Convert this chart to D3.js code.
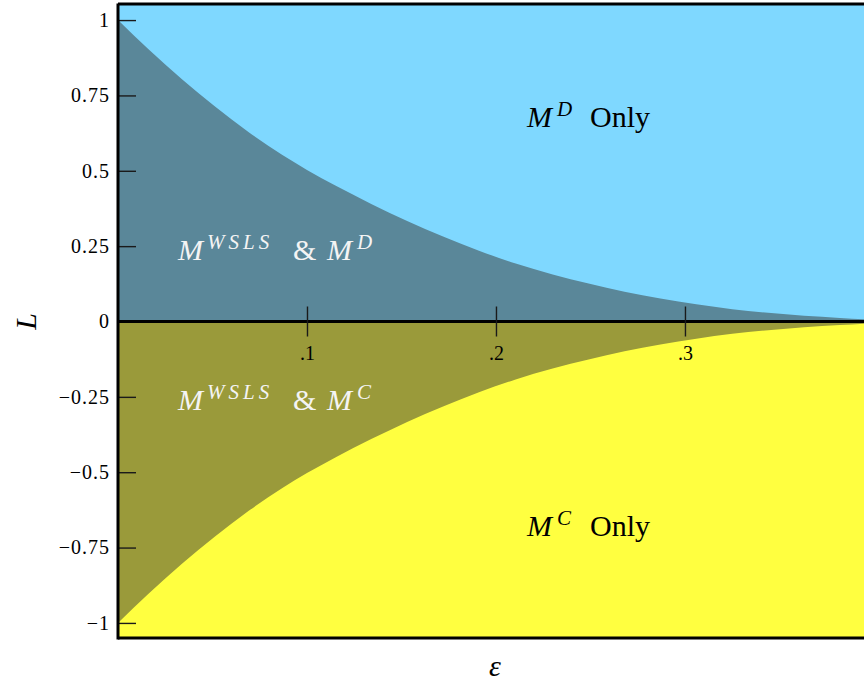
<!DOCTYPE html>
<html>
<head>
<meta charset="utf-8">
<script src="https://cdn.jsdelivr.net/npm/d3@7"></script>
<style>
  html, body { margin: 0; padding: 0; background: #ffffff; overflow: hidden; }
  svg text { font-family: "Liberation Serif", "DejaVu Serif", serif; }
</style>
</head>
<body>
<svg id="chart" width="864" height="682"></svg>
<script>
// Error rate ε and the boundary L(ε) of the WSLS region
const epsilon    = [0, 0.016, 0.034, 0.051, 0.069, 0.087, 0.100, 0.115, 0.134, 0.153, 0.172, 0.191, 0.210, 0.230, 0.249, 0.268, 0.287, 0.306, 0.325, 0.344, 0.363, 0.382, 0.395];
const upperBound = [1.000, 0.904, 0.803, 0.715, 0.629, 0.552, 0.503, 0.451, 0.390, 0.333, 0.282, 0.235, 0.193, 0.156, 0.126, 0.099, 0.076, 0.057, 0.041, 0.029, 0.019, 0.012, 0.007];
const lowerBound = [-1.000, -0.904, -0.803, -0.715, -0.629, -0.552, -0.503, -0.451, -0.390, -0.333, -0.282, -0.235, -0.193, -0.156, -0.126, -0.099, -0.076, -0.057, -0.041, -0.029, -0.019, -0.012, -0.007];

const xTickValues = [0.1, 0.2, 0.3];
const xTickLabels = [".1", ".2", ".3"];
const yTickValues = [1, 0.75, 0.5, 0.25, 0, -0.25, -0.5, -0.75, -1];
const yTickLabels = ["1", "0.75", "0.5", "0.25", "0", "\u22120.25", "\u22120.5", "\u22120.75", "\u22121"];

const colors = {
  dOnly: "#7fd8ff",
  wslsD: "#5a8799",
  wslsC: "#9a9a3a",
  cOnly: "#ffff40"
};

const svg = d3.select("#chart");
const plotLeft = 118, plotRight = 864.5, plotTop = 5, plotBottom = 638;

const x = d3.scaleLinear().domain([0, 0.395]).range([plotLeft, plotRight]);
const y = d3.scaleLinear().domain([-1.05, 1.05]).range([plotBottom, plotTop]);

const serif = "Liberation Serif, DejaVu Serif, serif";

// Background halves: defection above zero, cooperation below
svg.append("rect")
  .attr("x", plotLeft).attr("y", y(1.05))
  .attr("width", plotRight - plotLeft).attr("height", y(0) - y(1.05))
  .attr("fill", colors.dOnly);
svg.append("rect")
  .attr("x", plotLeft).attr("y", y(0))
  .attr("width", plotRight - plotLeft).attr("height", y(-1.05) - y(0))
  .attr("fill", colors.cOnly);

const pts = epsilon.map((e, i) => ({ e, hi: upperBound[i], lo: lowerBound[i] }));

const areaHi = d3.area()
  .x(d => x(d.e)).y0(y(0)).y1(d => y(d.hi))
  .curve(d3.curveMonotoneX);
const areaLo = d3.area()
  .x(d => x(d.e)).y0(y(0)).y1(d => y(d.lo))
  .curve(d3.curveMonotoneX);

svg.append("path").datum(pts).attr("d", areaHi).attr("fill", colors.wslsD);
svg.append("path").datum(pts).attr("d", areaLo).attr("fill", colors.wslsC);

// Y axis, ticks pointing into the plot
const yAxis = d3.axisLeft(y)
  .tickValues(yTickValues)
  .tickFormat((d, i) => yTickLabels[i])
  .tickSize(-18)
  .tickPadding(8);
const gy = svg.append("g").attr("transform", `translate(${plotLeft},0)`).call(yAxis);
gy.attr("font-family", null).attr("font-size", null);
gy.select(".domain").remove();
gy.selectAll(".tick line").attr("stroke", "#1a1a1a").attr("stroke-width", 1.4);
gy.selectAll(".tick text")
  .style("font-family", serif).style("font-size", "20px")
  .attr("letter-spacing", "1px")
  .attr("fill", "#000");

// Zero line
svg.append("line")
  .attr("x1", plotLeft).attr("x2", plotRight)
  .attr("y1", y(0)).attr("y2", y(0))
  .attr("stroke", "#000").attr("stroke-width", 3);

// X axis sits on L = 0, ticks crossing the line
const xAxis = d3.axisBottom(x)
  .tickValues(xTickValues)
  .tickFormat((d, i) => xTickLabels[i])
  .tickSize(15)
  .tickPadding(9);
const gx = svg.append("g").attr("transform", `translate(0,${y(0)})`).call(xAxis);
gx.attr("font-family", null).attr("font-size", null);
gx.select(".domain").remove();
gx.selectAll(".tick line").attr("y1", -15).attr("stroke", "#1a1a1a").attr("stroke-width", 1.4);
gx.selectAll(".tick text")
  .style("font-family", serif).style("font-size", "20px")
  .attr("fill", "#000");

// Frame
svg.append("line").attr("x1", plotLeft).attr("x2", plotLeft).attr("y1", plotTop - 1.5).attr("y2", plotBottom + 1.5)
  .attr("stroke", "#000").attr("stroke-width", 3);
svg.append("line").attr("x1", plotLeft).attr("x2", plotRight).attr("y1", plotTop - 1).attr("y2", plotTop - 1)
  .attr("stroke", "#000").attr("stroke-width", 3);
svg.append("line").attr("x1", plotLeft).attr("x2", plotRight).attr("y1", plotBottom).attr("y2", plotBottom)
  .attr("stroke", "#000").attr("stroke-width", 3);

// Axis titles
svg.append("text")
  .attr("transform", `translate(36,${y(0)}) rotate(-90)`)
  .attr("text-anchor", "middle")
  .style("font-family", serif).style("font-style", "italic").style("font-size", "30px")
  .text("L");
svg.append("text")
  .attr("x", 495).attr("y", 676)
  .attr("text-anchor", "middle")
  .style("font-family", serif).style("font-style", "italic").style("font-size", "30px")
  .text("\u03b5");

// Region labels built from pieces, each placed at an offset from the label start
function regionLabel(x0, baseline, parts, fill) {
  const t = svg.append("text")
    .style("font-family", serif)
    .attr("fill", fill);
  parts.forEach(p => {
    t.append("tspan")
      .attr("x", x0 + p.dx)
      .attr("y", p.sup ? baseline - 11 : baseline)
      .style("font-size", p.sup ? "21px" : "30px")
      .style("font-style", p.italic ? "italic" : "normal")
      .attr("letter-spacing", p.ls || 0)
      .text(p.t);
  });
}

regionLabel(527, 127, [
  { t: "M", dx: 0, italic: true },
  { t: "D", dx: 30, italic: true, sup: true },
  { t: "Only", dx: 63 }
], "#000");

regionLabel(527, 536, [
  { t: "M", dx: 0, italic: true },
  { t: "C", dx: 30, italic: true, sup: true },
  { t: "Only", dx: 63 }
], "#000");

regionLabel(178, 260, [
  { t: "M", dx: 0, italic: true },
  { t: "WSLS", dx: 29, italic: true, sup: true, ls: "4px" },
  { t: "&", dx: 115 },
  { t: "M", dx: 149, italic: true },
  { t: "D", dx: 179, italic: true, sup: true }
], "#f4f4f4");

regionLabel(178, 410, [
  { t: "M", dx: 0, italic: true },
  { t: "WSLS", dx: 29, italic: true, sup: true, ls: "4px" },
  { t: "&", dx: 115 },
  { t: "M", dx: 149, italic: true },
  { t: "C", dx: 179, italic: true, sup: true }
], "#f4f4f4");
</script>
</body>
</html>
